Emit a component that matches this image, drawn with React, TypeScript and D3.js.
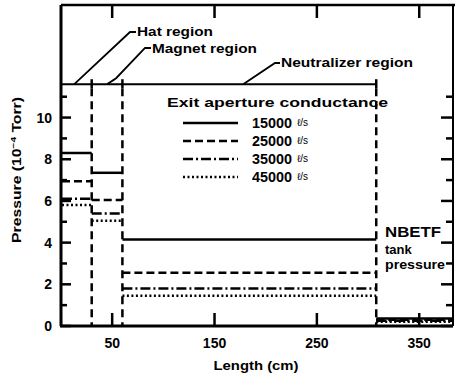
import React from "react";
import { scaleLinear, range } from "d3";

// region edges along the beam line (cm)
const regionEdges = [0, 30, 60, 308, 383];
const regionNames = ["Hat region", "Magnet region", "Neutralizer region"];
const bracketLevel = 11.6;

// pressure per region (10^-4 Torr): hat, magnet, neutralizer, tank
const conductances = ["15000", "25000", "35000", "45000"];
const p15000 = [8.3, 7.35, 4.15, 0.36];
const p25000 = [6.95, 6.05, 2.55, 0.3];
const p35000 = [6.1, 5.4, 1.8, 0.25];
const p45000 = [5.8, 5.05, 1.45, 0.2];
const dashes = ["none", "8 4", "10 3 2 3", "2 2.5"];

const xTicks = [50, 150, 250, 350];
const yMajor = [0, 2, 4, 6, 8, 10];
const yMinor = [1, 3, 5, 7, 9, 11];

const W = 455;
const H = 377;
const FONT = "'Liberation Sans', Arial, sans-serif";

export default function App() {
  const x = scaleLinear().domain([0, 383]).range([61, 453]);
  const y = scaleLinear().domain([0, 15.4]).range([326, 5]);
  const series = [p15000, p25000, p35000, p45000];
  const [x0, x1] = x.range();
  const [y0, y1] = y.range();

  const segs: { a: number; b: number; v: number; s: number }[] = [];
  series.forEach((vals, s) => {
    vals.forEach((v, r) => {
      segs.push({ a: regionEdges[r], b: regionEdges[r + 1], v, s });
    });
  });

  // tick marks: [x1, y1, x2, y2]
  const ticks: number[][] = [];
  yMajor.forEach((v) => {
    ticks.push([x0, y(v), x0 + 10, y(v)]);
    ticks.push([x1, y(v), x1 - 12, y(v)]);
  });
  yMinor.forEach((v) => {
    ticks.push([x0, y(v), x0 + 6, y(v)]);
    ticks.push([x1, y(v), x1 - 7, y(v)]);
  });
  xTicks.forEach((v) => {
    ticks.push([x(v), y0, x(v), y0 - 13]);
    ticks.push([x(v), y1, x(v), y1 + 13]);
  });

  const legendY = range(4).map((i) => 123 + i * 18);

  return (
    <svg width={W} height={H} style={{ position: "absolute", left: 0, top: 0, background: "#fff" }}>
      {/* frame */}
      <line x1={x0} x2={x0} y1={y1} y2={y0} stroke="#000" strokeWidth={3} />
      <line x1={x0 - 1} x2={x1} y1={y0} y2={y0} stroke="#000" strokeWidth={3} />
      <line x1={x0} x2={x1 + 2} y1={y1} y2={y1} stroke="#000" strokeWidth={2.5} />
      <line x1={x1} x2={x1} y1={y1} y2={y0} stroke="#000" strokeWidth={2} />

      {/* ticks */}
      {ticks.map((t, i) => (
        <line key={"t" + i} x1={t[0]} y1={t[1]} x2={t[2]} y2={t[3]} stroke="#000" strokeWidth={2.5} />
      ))}
      {yMajor.map((v) => (
        <text key={"yl" + v} x={x0 - 9} y={y(v) + 5} textAnchor="end" fontFamily={FONT} fontWeight="bold" fontSize={14}>{v}</text>
      ))}
      {xTicks.map((v) => (
        <text key={"xl" + v} x={x(v)} y={y0 + 22} textAnchor="middle" fontFamily={FONT} fontWeight="bold" fontSize={14}>{v}</text>
      ))}

      {/* region bracket */}
      <line x1={x(0)} x2={x(regionEdges[3])} y1={y(bracketLevel)} y2={y(bracketLevel)} stroke="#000" strokeWidth={2} />
      {regionEdges.slice(1, 4).map((e) => (
        <g key={e}>
          <line x1={x(e)} x2={x(e)} y1={y(bracketLevel) - 5} y2={y(bracketLevel) + 4} stroke="#000" strokeWidth={2.5} />
          <line x1={x(e)} x2={x(e)} y1={y(bracketLevel) + 4} y2={y(0)} stroke="#000" strokeWidth={2.5} strokeDasharray="8 5" />
        </g>
      ))}

      {/* pressure steps */}
      {segs.map((d, i) => (
        <line
          key={i}
          x1={x(d.a) + (d.a === 0 ? 1 : 0)}
          x2={x(d.b) - (d.b === 383 ? 1 : 0)}
          y1={y(d.v)}
          y2={y(d.v)}
          stroke="#000"
          strokeWidth={2.5}
          strokeDasharray={dashes[d.s]}
        />
      ))}

      {/* region labels with leaders */}
      <g fontFamily={FONT} fontWeight="bold" fontSize={12.5} fill="#000">
        <text x={137} y={36} textLength={76} lengthAdjust="spacingAndGlyphs">{regionNames[0]}</text>
        <text x={152} y={53} textLength={105} lengthAdjust="spacingAndGlyphs">{regionNames[1]}</text>
        <text x={281} y={67} textLength={132} lengthAdjust="spacingAndGlyphs">{regionNames[2]}</text>
      </g>
      <path d={`M136,32 L130,32 L${x(13)},${y(bracketLevel)}`} stroke="#000" strokeWidth={1.8} fill="none" />
      <path d={`M151,48 L145,48 L${x(48) + 6},${y(bracketLevel) - 6} Q${x(48)},${y(bracketLevel) - 2} ${x(45)},${y(bracketLevel)}`} stroke="#000" strokeWidth={1.8} fill="none" />
      <path d={`M280,63 L275,63 L${x(178)},${y(bracketLevel)}`} stroke="#000" strokeWidth={1.8} fill="none" />

      {/* legend */}
      <text x={167} y={107} fontFamily={FONT} fontWeight="bold" fontSize={13.5} textLength={221} lengthAdjust="spacingAndGlyphs">Exit aperture conductance</text>
      {conductances.map((c, i) => (
        <g key={c}>
          <line x1={183} x2={238} y1={legendY[i]} y2={legendY[i]} stroke="#000" strokeWidth={2.5} strokeDasharray={dashes[i]} />
          <text x={252} y={legendY[i] + 5} fontFamily={FONT} fontWeight="bold" fontSize={14} textLength={40} lengthAdjust="spacingAndGlyphs">{c}</text>
          <text x={297} y={legendY[i] + 3} fontFamily={FONT} fontSize={10}>ℓ/s</text>
        </g>
      ))}

      {/* tank label */}
      <g fontFamily={FONT} fontWeight="bold" fill="#000">
        <text x={385} y={237} fontSize={14} textLength={56} lengthAdjust="spacingAndGlyphs">NBETF</text>
        <text x={385} y={254} fontSize={13}>tank</text>
        <text x={385} y={269} fontSize={13} textLength={60} lengthAdjust="spacingAndGlyphs">pressure</text>
      </g>

      {/* axis titles */}
      <text x={256} y={370} textAnchor="middle" fontFamily={FONT} fontWeight="bold" fontSize={13} textLength={85} lengthAdjust="spacingAndGlyphs">Length (cm)</text>
      <text
        transform="translate(21,170) rotate(-90)"
        textAnchor="middle"
        fontFamily={FONT}
        fontWeight="bold"
        fontSize={12.5}
        textLength={146}
        lengthAdjust="spacingAndGlyphs"
      >
        Pressure (10<tspan dy={-5} fontSize={8}>−4</tspan><tspan dy={5}> Torr)</tspan>
      </text>
    </svg>
  );
}
